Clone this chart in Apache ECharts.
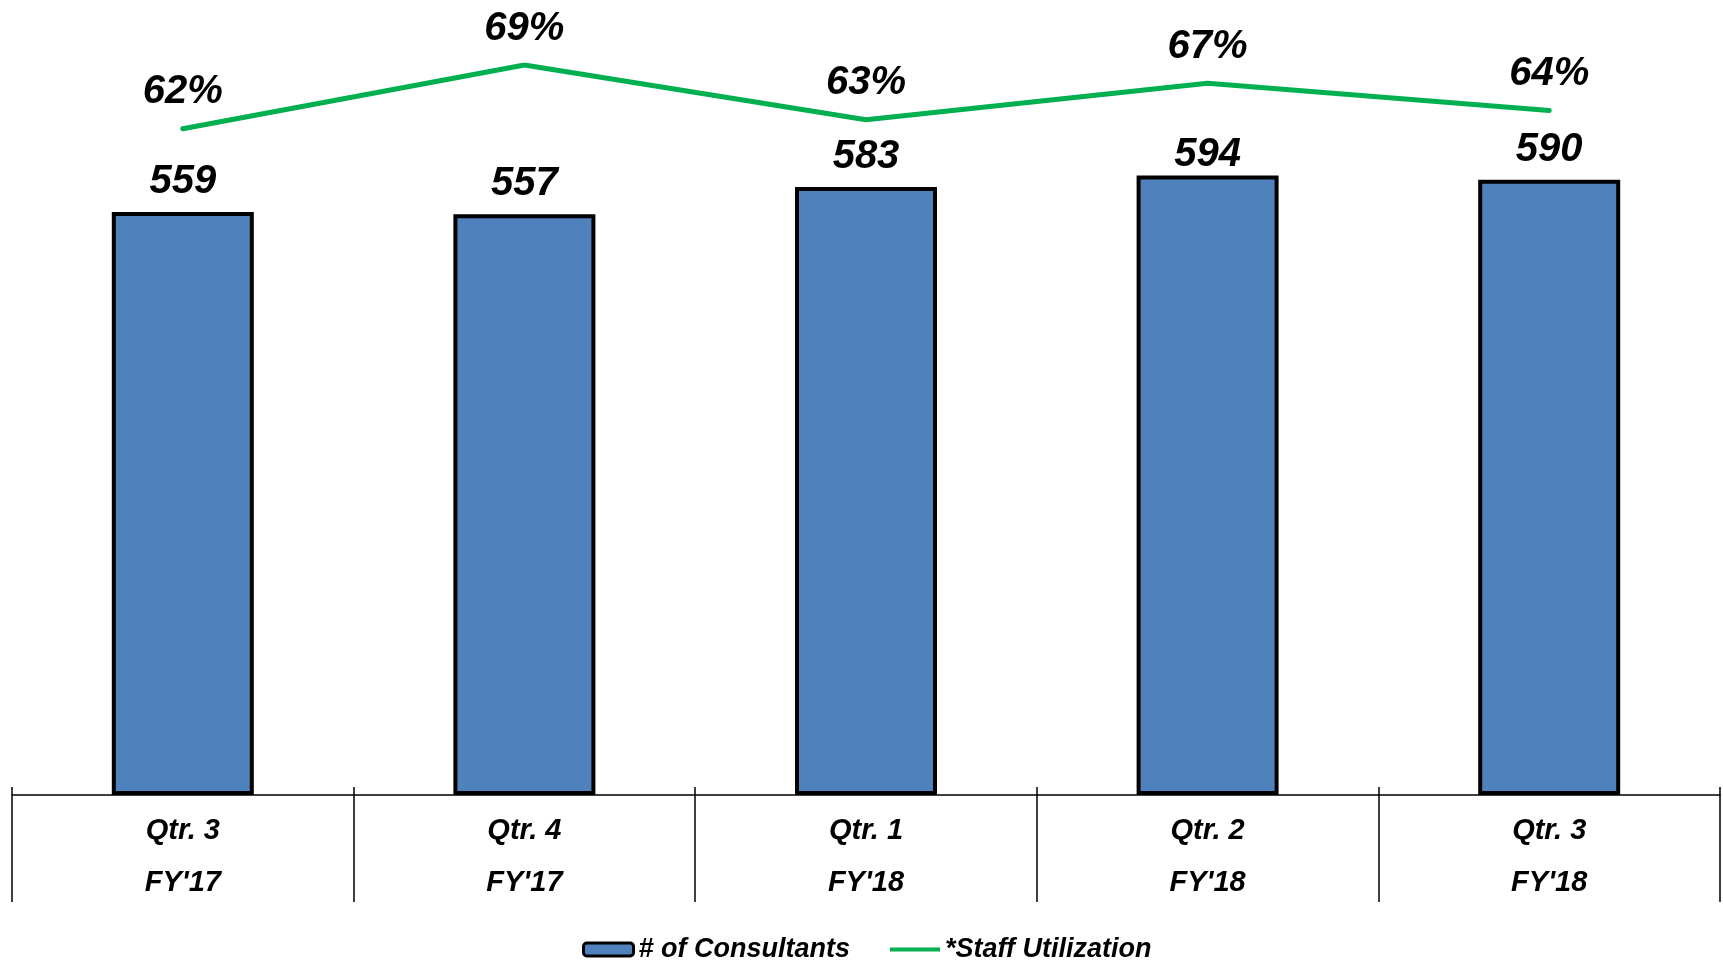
<!DOCTYPE html>
<html>
<head>
<meta charset="utf-8">
<script src="https://cdn.jsdelivr.net/npm/echarts@6/dist/echarts.min.js"></script>
<style>
html,body{margin:0;padding:0;background:#fff;}
#c{width:1723px;height:962px;}
</style>
</head>
<body>
<div id="c"></div>
<script>
const quarters = ["Qtr. 3", "Qtr. 4", "Qtr. 1", "Qtr. 2", "Qtr. 3"];
const fiscalYears = ["FY'17", "FY'17", "FY'18", "FY'18", "FY'18"];
const consultants = [559, 557, 583, 594, 590];
const utilization = [62, 69, 63, 67, 64];
const seriesNames = ["# of Consultants", "*Staff Utilization"];

const categories = quarters.map((q, i) => q + "\n" + fiscalYears[i]);
const FONT = "'Liberation Sans', Arial, sans-serif";

// the label of the 4th bar sits closer to its bar in the reference
const barData = consultants.map((v, i) => i === 3 ? {value: v, label: {offset: [0, 9]}} : v);

const chart = echarts.init(document.getElementById('c'), null, {renderer: 'canvas'});
chart.setOption({
  animation: false,
  backgroundColor: '#ffffff',
  grid: {left: 12, right: 3, top: 65, bottom: 167, containLabel: false},
  legend: {
    left: 577, top: 931,
    itemWidth: 50, itemHeight: 13, itemGap: 40,
    textStyle: {fontFamily: FONT, fontSize: 27, fontWeight: 'bold', fontStyle: 'italic', color: '#000'},
    data: [
      {name: seriesNames[0], itemStyle: {color: '#4F81BD', borderColor: '#000', borderWidth: 3}},
      {name: seriesNames[1], icon: 'path://M0,0 L0.001,0 Z M0,4.5 L50,4.5 L50,8.5 L0,8.5 Z M0,13 L0.001,13 Z'}
    ]
  },
  xAxis: [
    {
      type: 'category', data: categories, position: 'bottom',
      axisLine: {show: true, onZero: false, lineStyle: {color: '#000', width: 1.5}},
      axisTick: {show: true, inside: false, length: 107, lineStyle: {color: '#000', width: 1.5}},
      axisLabel: {
        margin: 10, interval: 0,
        fontFamily: FONT, fontSize: 29, fontWeight: 'bold', fontStyle: 'italic',
        color: '#000', lineHeight: 52
      }
    },
    {
      type: 'category', data: categories, position: 'bottom',
      axisLine: {show: false, onZero: false},
      axisTick: {show: true, inside: true, length: 8, lineStyle: {color: '#000', width: 1.5}},
      axisLabel: {show: false}
    }
  ],
  yAxis: [
    {type: 'value', min: 0, max: 700, show: false, splitLine: {show: false}},
    {type: 'value', min: -11.1, max: 69, show: false, splitLine: {show: false}}
  ],
  series: [
    {
      name: seriesNames[0], type: 'bar', xAxisIndex: 0, yAxisIndex: 0,
      data: barData, barWidth: 142,
      itemStyle: {color: '#4F81BD', borderColor: '#000', borderWidth: 4},
      label: {
        show: true, position: 'top', distance: 10,
        fontFamily: FONT, fontSize: 40, fontWeight: 'bold', fontStyle: 'italic', color: '#000'
      }
    },
    {
      name: seriesNames[1], type: 'line', xAxisIndex: 0, yAxisIndex: 1,
      data: utilization, symbol: 'circle', symbolSize: 1, showSymbol: true,
      lineStyle: {color: '#00B050', width: 5, cap: 'round', join: 'round'},
      itemStyle: {color: '#00B050'},
      label: {
        show: true, position: 'top', distance: 16, formatter: '{c}%',
        fontFamily: FONT, fontSize: 40, fontWeight: 'bold', fontStyle: 'italic', color: '#000'
      }
    }
  ]
});
</script>
</body>
</html>
